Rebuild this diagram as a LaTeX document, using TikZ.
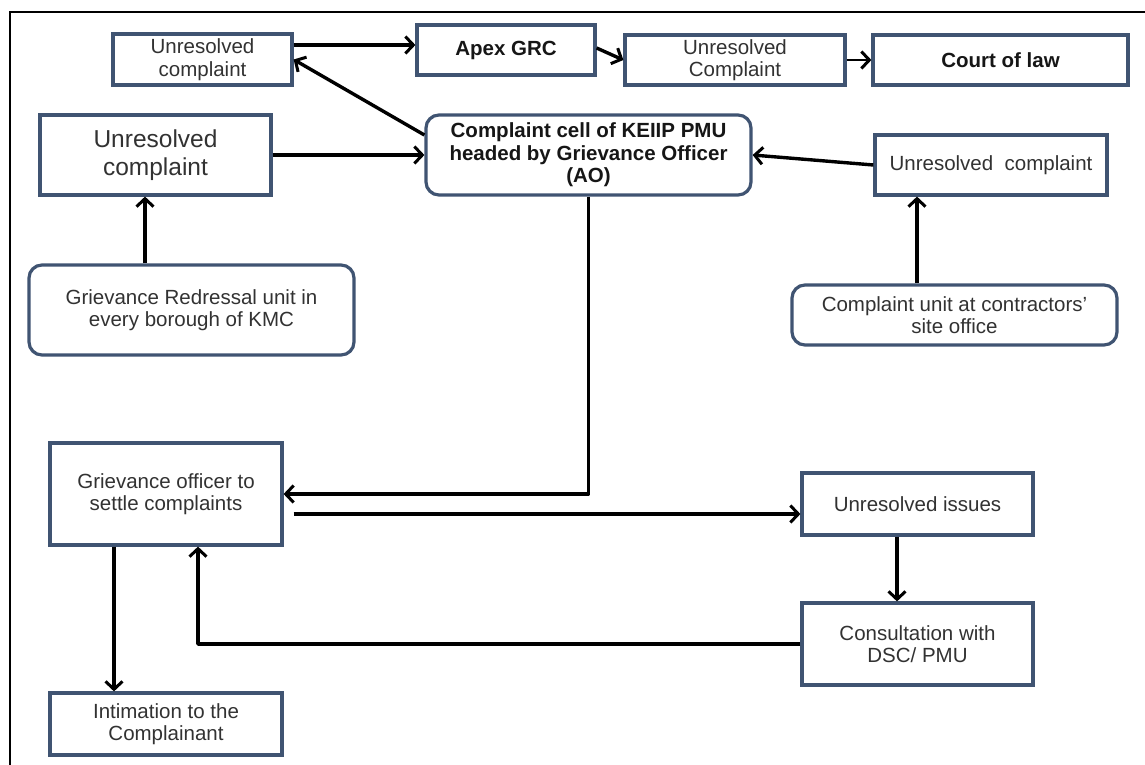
\documentclass[tikz,border=0pt]{standalone}
\usepackage{fontspec}
\setmainfont{Liberation Sans}
\usetikzlibrary{arrows.meta,calc}
\definecolor{bordc}{RGB}{64,84,114}
\definecolor{txtc}{RGB}{50,50,50}
\definecolor{boldc}{RGB}{22,22,22}
\newcommand{\fnorm}{\fontsize{20.5}{22.5}\selectfont}
\newcommand{\fbig}{\fontsize{24.5}{27.5}\selectfont}
\newcommand{\fbold}{\fontsize{20.5}{22.5}\selectfont\bfseries}
\tikzset{
  box/.style={draw=bordc, line width=3.2pt, fill=white, inner sep=0pt,
    align=center, text=txtc, font=\fnorm},
  rbox/.style={box, rounded corners=13pt},
  boldtext/.style={text=boldc, font=\fbold},
  arr/.style={draw=black, line width=3.4pt, line join=round,
    -{Straight Barb[length=8pt,width=17pt,line width=3pt]}},
  thinarr/.style={arr, line width=2.6pt}
}
\begin{document}
\begin{tikzpicture}[x=1pt,y=-1pt]
\useasboundingbox (0,0) rectangle (1145,765);
\fill[white] (0,0) rectangle (1145,765);
% outer frame
\draw[line width=1.8pt, black] (10,770) -- (10,12) -- (1150,12);

% top row
\node[box, minimum width=179pt, minimum height=51pt] (U1) at (202.5,59.5) {Unresolved\\complaint};
\node[box, boldtext, minimum width=178pt, minimum height=50pt] (Apex) at (506,50) {Apex GRC};
\node[box, minimum width=220pt, minimum height=50pt] (U2) at (735,60) {Unresolved\\Complaint};
\node[box, boldtext, minimum width=255pt, minimum height=50pt] (Court) at (1000.5,60) {Court of law};

% second row
\node[box, font=\fbig, minimum width=231pt, minimum height=80pt] (U3) at (155.5,155) {Unresolved\\complaint};
\node[rbox, boldtext, minimum width=325pt, minimum height=80pt] (Cell) at (588.5,155) {Complaint cell of KEIIP PMU\\headed by Grievance Officer\\(AO)};
\node[box, minimum width=232pt, minimum height=60pt] (U4) at (991,165) {Unresolved~ complaint};

% third row
\node[rbox, minimum width=325pt, minimum height=90pt] (GRU) at (191.5,310) {Grievance Redressal unit in\\every borough of KMC};
\node[rbox, minimum width=325pt, minimum height=60pt] (CU) at (954.5,315) {Complaint unit at contractors'\\site office};

% lower part
\node[box, minimum width=232pt, minimum height=102pt] (GO) at (166,494) {Grievance officer to\\settle complaints};
\node[box, minimum width=232pt, minimum height=62pt] (Int) at (166,724) {Intimation to the\\Complainant};
\node[box, minimum width=231pt, minimum height=62pt] (UI) at (917.5,504) {Unresolved issues};
\node[box, minimum width=231pt, minimum height=82pt] (Con) at (917.5,644) {Consultation with\\DSC/ PMU};

% connectors
\draw[arr] ([yshift=14.5pt]U1.east) -- ([yshift=5pt]Apex.west);
\draw[arr] ([yshift=2pt]Apex.east) -- (U2.west);
\draw[thinarr] (U2.east) -- (Court.west);
\draw[arr] ([yshift=20pt]Cell.west) -- (U1.east);
\draw[arr] (U3.east) -- (Cell.west);
\draw[arr] (U4.west) -- (Cell.east);
\draw[arr] ([xshift=-46.5pt]GRU.north) -- ([xshift=-10.5pt]U3.south);
\draw[arr] ([xshift=-37.5pt]CU.north) -- ([xshift=-74pt]U4.south);
\draw[arr] (Cell.south) |- (GO.east);
\draw[arr] ([xshift=10pt,yshift=-20pt]GO.east) coordinate (g1) -- (g1 -| UI.west);
\draw[arr] ([xshift=-20.5pt]UI.south) -- ([xshift=-20.5pt]Con.north);
\draw[arr] (Con.west) -| ([xshift=32pt]GO.south);
\draw[arr] ([xshift=-52pt]GO.south) -- ([xshift=-52pt]Int.north);
\end{tikzpicture}
\end{document}
